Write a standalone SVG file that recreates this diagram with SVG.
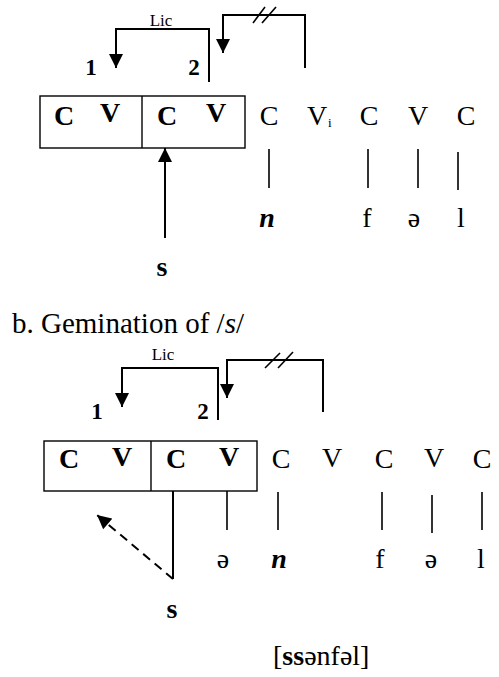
<svg xmlns="http://www.w3.org/2000/svg" width="499" height="677" viewBox="0 0 499 677">
<style>
text{font-family:"Liberation Serif","DejaVu Serif","Times New Roman",serif;fill:#000}
.cv{font-size:28px;text-anchor:middle}
.b{font-weight:bold}
.num{font-size:23px;font-weight:bold;text-anchor:middle}
.lic{font-size:17px;text-anchor:middle}
.br{fill:none;stroke:#000;stroke-width:2}
.ln{stroke:#000;stroke-width:1.6;fill:none}
.box{fill:none;stroke:#000;stroke-width:1.4}
</style>
<defs>
<marker id="ah" viewBox="0 0 10 10" refX="10" refY="5" markerUnits="userSpaceOnUse" markerWidth="15" markerHeight="14" orient="auto">
<path d="M0,0 L10,5 L0,10 z" fill="#000"/>
</marker>
</defs>
<rect width="499" height="677" fill="#fff"/>

<!-- Part a -->
<g id="a-lic-label"><text class="lic" x="161" y="26">Lic</text></g>
<g id="a-num1"><text class="num" x="91" y="75">1</text></g>
<g id="a-num2"><text class="num" x="194" y="75">2</text></g>
<g id="a-box">
<rect class="box" x="40" y="96" width="205" height="52"/>
<line class="box" x1="142" y1="96" x2="142" y2="148"/>
<text class="cv b" x="64" y="125">C</text>
<text class="cv b" x="110" y="122">V</text>
<text class="cv b" x="167" y="125">C</text>
<text class="cv b" x="216" y="122">V</text>
</g>
<g id="a-skeleton">
<text class="cv" x="269" y="125">C</text>
<text class="cv" x="317" y="125">V</text>
<text x="328" y="127" font-size="13">i</text>
<text class="cv" x="369" y="125">C</text>
<text class="cv" x="418" y="125">V</text>
<text class="cv" x="466" y="125">C</text>
</g>
<g id="a-melody">
<text class="cv b" x="267" y="227" font-style="italic">n</text>
<text class="cv" x="367" y="227">f</text>
<text class="cv" x="414" y="227">ə</text>
<text class="cv" x="461" y="227">l</text>
</g>
<g id="a-s"><text class="cv b" x="162" y="276">s</text></g>

<!-- Part b -->
<g id="b-title"><text x="12" y="333" font-size="29">b. Gemination of /<tspan font-style="italic">s</tspan>/</text></g>
<g id="b-lic-label"><text class="lic" x="163" y="360">Lic</text></g>
<g id="b-num1"><text class="num" x="97" y="419">1</text></g>
<g id="b-num2"><text class="num" x="203" y="419">2</text></g>
<g id="b-box">
<rect class="box" x="44" y="441" width="213" height="50"/>
<line class="box" x1="151" y1="441" x2="151" y2="491"/>
<text class="cv b" x="69" y="468">C</text>
<text class="cv b" x="122" y="466">V</text>
<text class="cv b" x="176" y="468">C</text>
<text class="cv b" x="229" y="466">V</text>
</g>
<g id="b-skeleton">
<text class="cv" x="281" y="468">C</text>
<text class="cv" x="332" y="467">V</text>
<text class="cv" x="384" y="468">C</text>
<text class="cv" x="434" y="467">V</text>
<text class="cv" x="482" y="468">C</text>
</g>
<g id="b-melody">
<text class="cv" x="223" y="568">ə</text>
<text class="cv b" x="279" y="568" font-style="italic">n</text>
<text class="cv" x="380" y="568">f</text>
<text class="cv" x="431" y="568">ə</text>
<text class="cv" x="481" y="568">l</text>
</g>
<g id="b-s"><text class="cv b" x="172" y="618">s</text></g>
<g id="b-result"><text x="273" y="665" font-size="28">[<tspan font-weight="bold">ss</tspan>ənfəl]</text></g>

<!-- Connectors -->
<g id="connectors">
<!-- a -->
<path class="br" d="M209,82 V29 H116 V68" marker-end="url(#ah)"/>
<path class="br" d="M305,68 V15 H223 V53" marker-end="url(#ah)"/>
<line class="ln" x1="253" y1="23" x2="265" y2="7"/>
<line class="ln" x1="262" y1="23" x2="276" y2="7"/>
<path class="br" d="M165,238 V148" marker-end="url(#ah)"/>
<line class="ln" x1="269" y1="149" x2="269" y2="188"/>
<line class="ln" x1="368" y1="149" x2="368" y2="188"/>
<line class="ln" x1="418" y1="149" x2="418" y2="188"/>
<line class="ln" x1="458" y1="152" x2="458" y2="190"/>
<!-- b -->
<path class="br" d="M218,420 V368 H122 V407" marker-end="url(#ah)"/>
<path class="br" d="M323,412 V360 H227 V398" marker-end="url(#ah)"/>
<line class="ln" x1="265" y1="368" x2="280" y2="353"/>
<line class="ln" x1="278" y1="368" x2="293" y2="352"/>
<line class="br" x1="173" y1="491" x2="173" y2="579"/>
<path class="br" d="M173,579 L97,515" stroke-dasharray="9,6" marker-end="url(#ah)"/>
<line class="ln" x1="227" y1="491" x2="227" y2="530"/>
<line class="ln" x1="278" y1="492" x2="278" y2="530"/>
<line class="ln" x1="382" y1="492" x2="382" y2="530"/>
<line class="ln" x1="432" y1="495" x2="432" y2="533"/>
<line class="ln" x1="482" y1="492" x2="482" y2="530"/>
</g>
</svg>
